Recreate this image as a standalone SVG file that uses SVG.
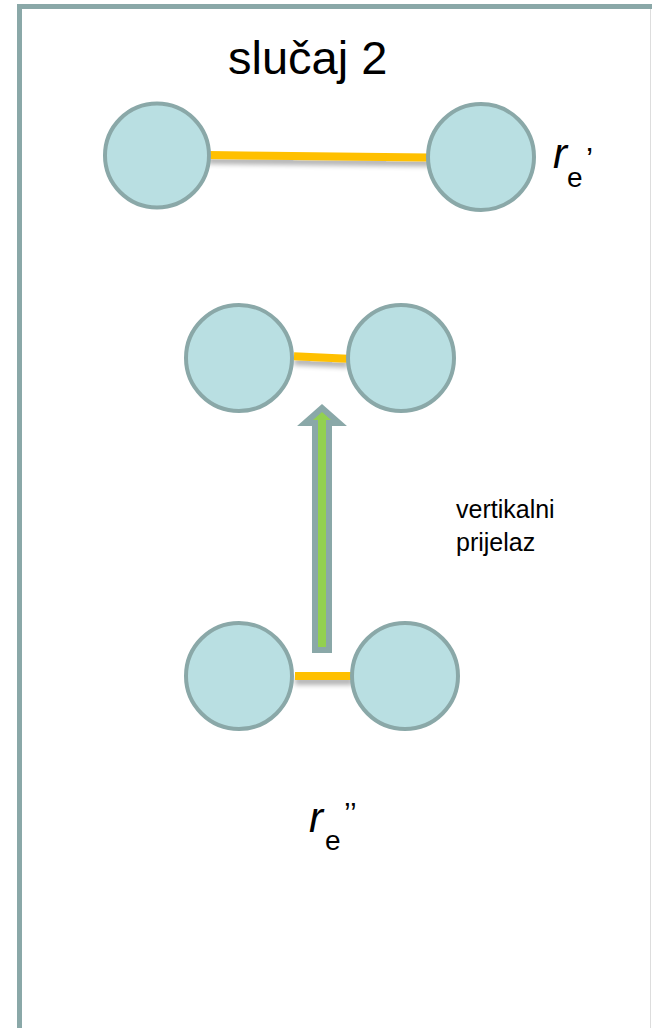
<svg xmlns="http://www.w3.org/2000/svg" width="652" height="1028" viewBox="0 0 652 1028">
<defs>
<filter id="sh" filterUnits="userSpaceOnUse" x="0" y="0" width="652" height="1028">
<feGaussianBlur in="SourceAlpha" stdDeviation="2.5"/>
<feOffset dx="0" dy="5" result="b"/>
<feComponentTransfer><feFuncA type="linear" slope="0.3"/></feComponentTransfer>
<feMerge><feMergeNode/><feMergeNode in="SourceGraphic"/></feMerge>
</filter>
</defs>
<style>
.atom{fill:#B9DFE2;stroke:#8AA8A8;stroke-width:4}
.bond{stroke:#FFC000;stroke-width:8;fill:none;filter:url(#sh)}
.t{font-family:"Liberation Sans",Arial,sans-serif;fill:#000}
</style>
<rect width="652" height="1028" fill="#fff"/>
<g id="frame">
<path d="M19.5 1028 V6.5 H652" fill="none" stroke="#8AA8A8" stroke-width="5"/>
<line x1="650.5" y1="9" x2="650.5" y2="1028" stroke="#ddd" stroke-width="1"/>
</g>
<g id="title"><text class="t" x="228" y="74" font-size="47">slučaj 2</text></g>
<g id="connectors">
<line class="bond" x1="208" y1="155" x2="430" y2="157.5"/>
<line class="bond" x1="294" y1="356.3" x2="348" y2="358.8"/>
<line class="bond" x1="295" y1="676" x2="353" y2="676"/>
</g>
<g id="top-left"><circle class="atom" cx="157" cy="155.5" r="52"/></g>
<g id="top-right"><circle class="atom" cx="481" cy="157" r="53"/></g>
<g id="mid-left"><circle class="atom" cx="239" cy="358" r="53"/></g>
<g id="mid-right"><circle class="atom" cx="401" cy="358" r="53"/></g>
<g id="bot-left"><circle class="atom" cx="239" cy="676" r="53"/></g>
<g id="bot-right"><circle class="atom" cx="405" cy="676" r="53"/></g>
<g id="arrow">
<polygon points="315,650 329,650 329,423 339,423 322,408 305,423 315,423" fill="#92D050" stroke="#8AA8A8" stroke-width="6" stroke-linejoin="miter"/>
</g>
<g id="label-top"><text class="t" x="553" y="168" font-size="42" font-style="italic">r</text><text class="t" x="567" y="187" font-size="28">e</text><text class="t" x="586" y="170" font-size="32">’</text></g>
<g id="label-vert"><text class="t" font-size="25"><tspan x="456" y="518">vertikalni</tspan><tspan x="456" y="551">prijelaz</tspan></text></g>
<g id="label-bot"><text class="t" x="309" y="832" font-size="42" font-style="italic">r</text><text class="t" x="325" y="850" font-size="28">e</text><text class="t" x="344" y="823" font-size="30">’’</text></g>
</svg>
